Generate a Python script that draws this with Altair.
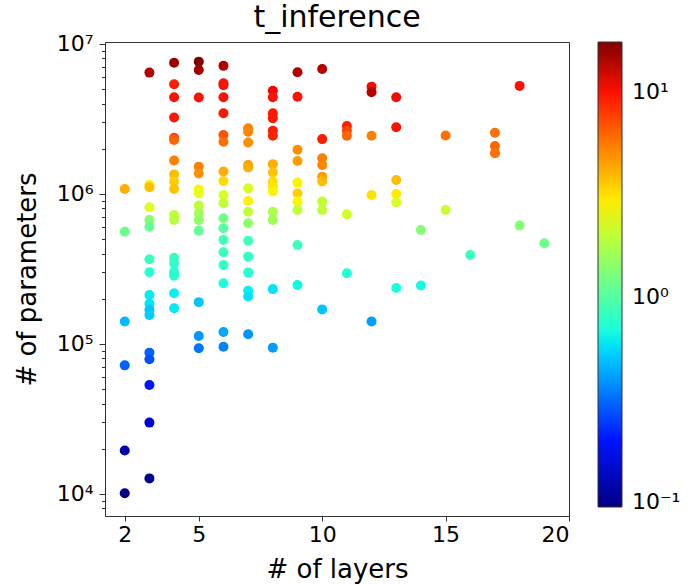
import altair as alt
import numpy as np
import pandas as pd

# Number of layers, parameter count and inference time of each trained network
n_layers = (
    [2] * 6 + [3] * 17 + [4] * 18 + [5] * 14 + [6] * 19 + [7] * 15 + [8] * 15
    + [9] * 10 + [10] * 9 + [11] * 5 + [12] * 5 + [13] * 6 + [14] * 2
    + [15] * 2 + [16] * 1 + [17] * 3 + [18] * 2 + [19] * 1
)

n_params = [
    # 2 layers
    1.08e6, 5.6e5, 1.41e5, 7.2e4, 1.95e4, 1.01e4,
    # 3 layers
    6.44e6, 1.15e6, 1.11e6, 8.15e5, 6.7e5, 6.05e5, 3.67e5, 3.01e5, 2.12e5,
    1.85e5, 1.69e5, 1.56e5, 8.75e4, 7.9e4, 5.33e4, 2.99e4, 1.27e4,
    # 4 layers
    7.5e6, 5.39e6, 4.41e6, 3.23e6, 2.37e6, 2.29e6, 1.67e6, 1.35e6, 1.21e6,
    1.08e6, 7.24e5, 6.71e5, 3.76e5, 3.45e5, 3.03e5, 2.85e5, 2.18e5, 1.73e5,
    # 5 layers
    7.62e6, 6.71e6, 4.39e6, 1.52e6, 1.37e6, 1.07e6, 1.01e6, 8.36e5, 7.44e5,
    6.71e5, 5.69e5, 1.90e5, 1.13e5, 9.36e4,
    # 6 layers
    7.14e6, 5.47e6, 5.31e6, 4.41e6, 3.45e6, 2.47e6, 2.23e6, 1.41e6, 1.22e6,
    9.85e5, 8.67e5, 6.89e5, 5.91e5, 4.94e5, 4.09e5, 3.36e5, 2.54e5, 1.20e5, 9.59e4,
    # 7 layers
    2.74e6, 2.60e6, 2.20e6, 1.56e6, 1.50e6, 1.09e6, 8.98e5, 7.62e5, 6.38e5,
    4.88e5, 3.82e5, 2.99e5, 2.26e5, 2.07e5, 1.16e5,
    # 8 layers
    4.88e6, 4.41e6, 3.45e6, 3.20e6, 2.64e6, 2.44e6, 1.58e6, 1.39e6, 1.21e6,
    1.12e6, 1.04e6, 7.62e5, 6.71e5, 2.32e5, 9.45e4,
    # 9 layers
    6.48e6, 4.45e6, 1.97e6, 1.66e6, 1.19e6, 1.01e6, 8.89e5, 7.82e5, 4.57e5, 2.47e5,
    # 10 layers
    6.81e6, 2.32e6, 1.73e6, 1.56e6, 1.30e6, 1.21e6, 8.89e5, 7.82e5, 1.70e5,
    # 11 layers
    2.84e6, 2.64e6, 2.44e6, 7.32e5, 2.96e5,
    # 12 layers
    5.19e6, 4.76e6, 2.44e6, 9.85e5, 1.41e5,
    # 13 layers
    4.41e6, 2.78e6, 1.24e6, 1.0e6, 8.8e5, 2.36e5,
    # 14 layers
    5.75e5, 2.45e5,
    # 15 layers
    2.45e6, 7.82e5,
    # 16 layers
    3.92e5,
    # 17 layers
    2.56e6, 2.09e6, 1.87e6,
    # 18 layers
    5.25e6, 6.15e5,
    # 19 layers
    4.69e5,
]

t_inference = [
    4.2, 1.15, 0.47, 0.30, 0.11, 0.094,
    14, 2.8, 3.8, 2.4, 1.35, 1.1, 0.85, 0.76, 0.61, 0.59, 0.50, 0.52, 0.30,
    0.27, 0.20, 0.135, 0.10,
    15.5, 9.5, 10, 9.8, 7.6, 6.3, 5.4, 3.85, 3.5, 3.7, 2.0, 1.9, 0.85, 0.8,
    0.76, 0.75, 0.62, 0.6,
    17.6, 15, 10, 5.4, 5.0, 2.85, 2.6, 2.0, 1.63, 1.46, 1.1, 0.50, 0.39, 0.33,
    14, 10, 10, 10, 9.8, 7.0, 5.9, 4.2, 3.3, 2.3, 2.0, 1.22, 1.02, 0.88, 0.85,
    0.8, 0.69, 0.43, 0.35,
    5.4, 5.2, 5.0, 4.6, 4.2, 2.3, 2.85, 2.0, 1.46, 0.88, 0.8, 0.75, 0.62, 0.58, 0.39,
    10.5, 10, 9.8, 9.8, 9.5, 9.0, 4.2, 3.7, 3.15, 3.1, 2.85, 1.8, 1.63, 0.58, 0.41,
    14, 10, 5.0, 4.6, 2.85, 3.5, 2.8, 2.0, 0.85, 0.65,
    14, 9.5, 5.4, 5.3, 4.6, 3.85, 2.0, 2.0, 0.5,
    9.2, 7.6, 6.3, 2.2, 0.72,
    10.4, 14, 5.4, 3.15, 0.41,
    10.4, 10, 3.85, 3.0, 2.3, 0.69,
    1.35, 0.66,
    5.9, 2.1,
    0.85,
    5.9, 6.3, 5.9,
    10, 1.35,
    1.2,
]

x_ticks = [2, 5, 10, 15, 20]
y_major = [1e4, 1e5, 1e6, 1e7]
y_minor = [8e3, 9e3] + [m * 10 ** e for e in (4, 5, 6) for m in range(2, 10)]
cbar_ticks = [0.1, 1, 10]

df = pd.DataFrame({"layers": n_layers, "params": n_params, "t": t_inference})

# "jet" colormap stops, spread over the log range of the colour values
jet_pos = [0.0, 0.11, 0.125, 0.34, 0.35, 0.375, 0.5, 0.64, 0.66, 0.89, 0.91, 1.0]
jet_hex = ["#000080", "#0000ff", "#0000ff", "#00dbff", "#00e5f7", "#15ffe2",
           "#7bff7b", "#eeff08", "#ffec00", "#ff1300", "#e80000", "#800000"]
lo, hi = np.log10(min(t_inference)), np.log10(max(t_inference))
jet_domain = [float(10 ** (lo + p * (hi - lo))) for p in jet_pos]

FONT = "DejaVu Sans"

x_scale = alt.Scale(domain=[1.2, 20], nice=False, zero=False)
y_scale = alt.Scale(type="log", domain=[7130, 1.03e7], nice=False)

y_label_expr = (
    "datum.value == 10000 ? '10\u2074' : datum.value == 100000 ? '10\u2075' : "
    "datum.value == 1000000 ? '10\u2076' : '10\u2077'"
)
cbar_label_expr = (
    "datum.value < 0.5 ? '10\u207b\u00b9' : datum.value < 5 ? '10\u2070' : '10\u00b9'"
)

points = alt.Chart(df).mark_circle(size=100, opacity=1).encode(
    x=alt.X(
        "layers:Q",
        scale=x_scale,
        axis=alt.Axis(
            values=x_ticks, title="# of layers", tickSize=5, labelFontSize=22,
            labelPadding=3, titleFontSize=26, titleBaseline="alphabetic",
            titleX=232, titleY=61,
        ),
    ),
    y=alt.Y(
        "params:Q",
        scale=y_scale,
        axis=alt.Axis(
            orient="left", values=y_major, labelExpr=y_label_expr,
            title="# of parameters", tickSize=6, labelFontSize=22, labelPadding=6,
            titleFontSize=26, titleAngle=270, titleBaseline="alphabetic",
            titleAlign="center", titleX=-70, titleY=237,
        ),
    ),
    color=alt.Color(
        "t:Q",
        scale=alt.Scale(type="log", domain=jet_domain, range=jet_hex,
                        interpolate="rgb", nice=False),
        legend=alt.Legend(
            title=None, orient="none", legendX=493, legendY=0, direction="vertical",
            gradientLength=465, gradientThickness=24, gradientStrokeColor="#333",
            gradientStrokeWidth=1, values=cbar_ticks, labelExpr=cbar_label_expr,
            labelFontSize=22, labelFont=FONT, labelColor="black", labelOffset=10,
            padding=0,
        ),
    ),
)

# minor log ticks on the y axis
minor = alt.Chart(df).mark_circle(opacity=0).encode(
    x=alt.X("layers:Q", scale=x_scale, axis=None),
    y=alt.Y(
        "params:Q",
        scale=y_scale,
        axis=alt.Axis(orient="left", values=y_minor, labels=False, tickSize=3.5,
                      title=None, domain=False),
    ),
)

chart = (
    alt.layer(points, minor)
    .resolve_axis(x="independent", y="independent")
    .properties(
        width=464,
        height=474,
        autosize="none",
        padding={"left": 105, "top": 42, "right": 122, "bottom": 69},
        title=alt.TitleParams(
            "t_inference", fontSize=30, font=FONT, fontWeight="normal",
            anchor="middle", baseline="alphabetic", offset=11, dy=35,
            color="black",
        ),
    )
    .configure_view(stroke="#333", strokeWidth=1)
    .configure_axis(
        grid=False, domainColor="#333", tickColor="#333", labelColor="black",
        titleColor="black", labelFont=FONT, titleFont=FONT, titleFontWeight="normal",
    )
)

chart.save("out.html", embed_options={"renderer": "svg", "actions": False})
